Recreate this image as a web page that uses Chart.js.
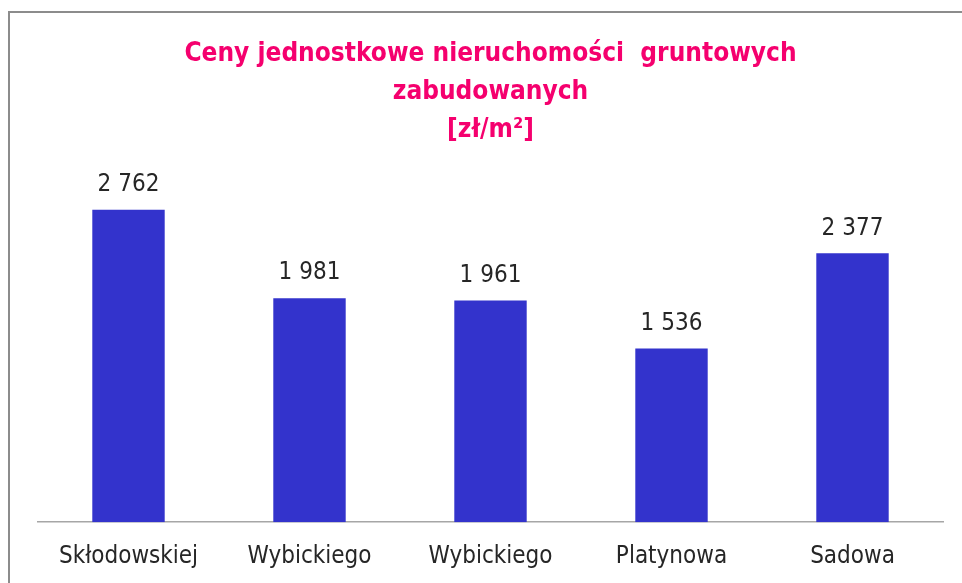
<!DOCTYPE html>
<html lang="pl">
<head>
  <meta charset="UTF-8" />
  <title>Ceny jednostkowe nieruchomości gruntowych zabudowanych</title>
  <script src="https://cdn.jsdelivr.net/npm/chart.js"></script>
  <style>
    body { margin: 0; padding: 0; background: #fff; }
    .wrap { position: relative; width: 962px; height: 583px; overflow: hidden; }
    .frame {
      position: absolute;
      left: 8px; top: 11px;
      width: 1000px; height: 700px;
      border-top: 2px solid #8c8c8c;
      border-left: 2px solid #8c8c8c;
    }
    canvas { position: absolute; left: 0; top: 0; }
  </style>
</head>
<body>
  <div class="wrap">
    <div class="frame"></div>
    <canvas id="chart" width="962" height="583"></canvas>
  </div>

  <script>
    const categories = ['Skłodowskiej', 'Wybickiego', 'Wybickiego', 'Platynowa', 'Sadowa'];
    const prices = [2762, 1981, 1961, 1536, 2377];
    const titleLines = ['Ceny jednostkowe nieruchomości  gruntowych', 'zabudowanych', '[zł/m²]'];

    const FONT = '"Liberation Sans Narrow", "DejaVu Sans Condensed", Roboto, sans-serif';

    // liczby z odstępem tysięcy: 2 762
    function fmt(v) {
      return String(v).replace(/\B(?=(\d{3})+(?!\d))/g, ' ');
    }

    const valueLabels = {
      id: 'valueLabels',
      afterDatasetsDraw(chart) {
        const ctx = chart.ctx;
        const meta = chart.getDatasetMeta(0);
        ctx.save();
        ctx.font = '24px ' + FONT;
        ctx.fillStyle = '#262626';
        ctx.textAlign = 'center';
        ctx.textBaseline = 'middle';
        meta.data.forEach((bar, i) => {
          ctx.fillText(fmt(prices[i]), bar.x, bar.y - 25);
        });
        ctx.restore();
      }
    };

    new Chart(document.getElementById('chart'), {
      type: 'bar',
      data: {
        labels: categories,
        datasets: [{
          data: prices,
          backgroundColor: '#3333cc',
          barPercentage: 0.4,
          categoryPercentage: 1
        }]
      },
      options: {
        responsive: false,
        animation: false,
        layout: { padding: { left: 38, right: 19, top: 0, bottom: -8 } },
        plugins: {
          legend: { display: false },
          tooltip: { enabled: false },
          title: {
            display: true,
            text: titleLines,
            color: '#f5006e',
            font: { family: FONT, size: 26, weight: 'bold', lineHeight: 1.46 },
            padding: { top: 35, bottom: 34 }
          }
        },
        scales: {
          x: {
            grid: { display: false, drawTicks: false },
            border: { display: true, color: '#a6a6a6', width: 1.5 },
            ticks: { color: '#262626', font: { family: FONT, size: 24 }, padding: 20, maxRotation: 0 }
          },
          y: {
            display: false,
            min: 0,
            max: 3000
          }
        }
      },
      plugins: [valueLabels]
    });
  </script>
</body>
</html>
